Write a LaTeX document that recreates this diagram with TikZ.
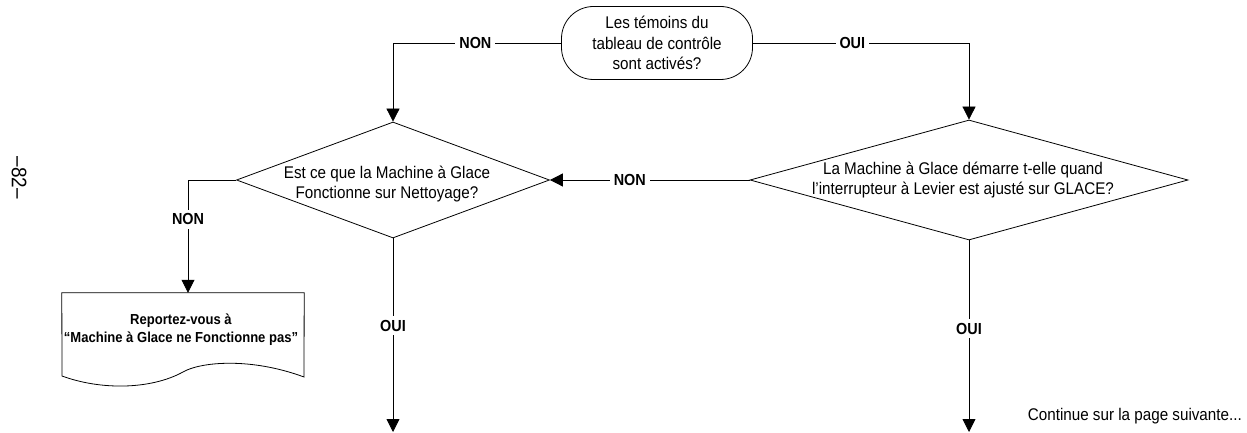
\documentclass[tikz,border=0pt]{standalone}
\usepackage{fontspec}
\setmainfont{Liberation Sans}[FakeStretch=0.9]
\usetikzlibrary{shapes.geometric,arrows.meta}
\begin{document}
\begin{tikzpicture}[x=1pt,y=-1pt,
  every node/.style={font=\fontsize{16.9}{20.5}\selectfont},
  flow/.style={line width=0.8pt},
  arr/.style={flow,-{Triangle[length=13pt,width=13pt]}},
  decision/.style={diamond,draw,line width=0.8pt,inner sep=0pt},
  terminal/.style={rectangle,draw,line width=0.8pt,rounded corners=32pt,
    minimum width=191pt,minimum height=73pt,align=center},
  txt/.style={align=center,inner sep=0pt},
  lbl/.style={fill=white,inner sep=4pt,font=\fontsize{16}{18}\selectfont\bfseries}]
\useasboundingbox (0,0) rectangle (1247,433);

% start question
\node[terminal] (start) at (657,43) {Les témoins du\\tableau de contrôle\\sont activés?};

% decision diamonds (outline) and their texts
\node[decision,minimum width=313pt,minimum height=116pt] (q1) at (393,180) {};
\node[txt] (q1t) at (387,184) {Est ce que la Machine à Glace\\Fonctionne sur Nettoyage?};
\node[decision,minimum width=438pt,minimum height=120pt] (q2) at (969,180) {};
\node[txt] (q2t) at (963,180) {La Machine à Glace démarre t-elle quand\\l’interrupteur à Levier est ajusté sur GLACE?};

% document box
\node[minimum width=242pt,minimum height=83pt,inner sep=0pt] (doc) at (183,334.5) {};
\draw[line width=0.8pt] (doc.north west) -- (doc.north east) -- (304,377)
  .. controls (250,357) and (200,362) .. (183,372)
  .. controls (150,390) and (100,390) .. (62,376) -- cycle;
\node[txt,font=\fontsize{14.5}{18}\selectfont\bfseries] (doct) at (181,330)
  {Reportez-vous à\\“Machine à Glace ne Fonctionne pas”};

% free ends of the outgoing arrows
\coordinate (end1) at (393,432);
\coordinate (end2) at (969,432);

% connectors
\draw[arr] (start.west) -| node[lbl,pos=0.255] {NON} (q1.north);
\draw[arr] (start.east) -| node[lbl,pos=0.23] {OUI} (q2.north);
\draw[arr] (q2.west) -- node[lbl,pos=0.6] {NON} (q1.east);
\draw[arr] (q1.west) -| node[lbl,pos=0.675] {NON} (doc.north -| 188,0);
\draw[arr] (q1.south) -- node[lbl,pos=0.45] {OUI} (end1);
\draw[arr] (q2.south) -- node[lbl,pos=0.46] {OUI} (end2);

% footer notes
\node[anchor=east,inner sep=0pt] (cont) at (1242,416) {Continue sur la page suivante...};
\node[rotate=-90,inner sep=0pt,font=\fontsize{21}{24}\selectfont] (pg) at (19,178) {–82–};
\end{tikzpicture}
\end{document}
